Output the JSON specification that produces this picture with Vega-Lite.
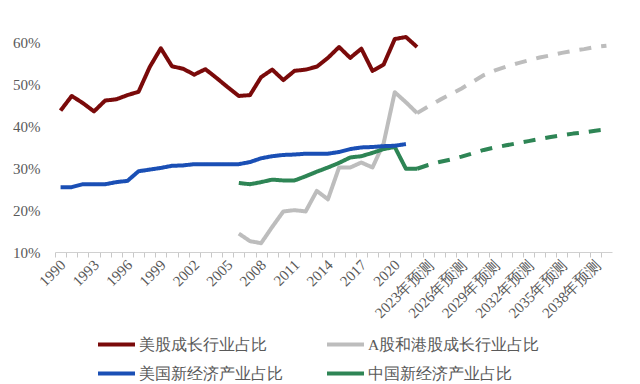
{
  "$schema": "https://vega.github.io/schema/vega-lite/v6.json",
  "width": 557,
  "height": 251,
  "autosize": {"type": "none"},
  "padding": {"left": 55, "top": 1, "right": 28, "bottom": 132},
  "background": "white",
  "config": {
    "view": {"stroke": null},
    "font": "Liberation Serif",
    "axis": {"labelFont": "Liberation Serif", "labelColor": "#595959", "labelFontSize": 15, "title": null, "grid": false},
    "legend": {"labelFont": "Liberation Serif", "labelColor": "#595959"}
  },
  "data": {
    "values": [
      {"series": "美股成长行业占比", "type": "实际", "year": 1990, "value": 43.8},
      {"series": "美股成长行业占比", "type": "实际", "year": 1991, "value": 47.3},
      {"series": "美股成长行业占比", "type": "实际", "year": 1992, "value": 45.6},
      {"series": "美股成长行业占比", "type": "实际", "year": 1993, "value": 43.6},
      {"series": "美股成长行业占比", "type": "实际", "year": 1994, "value": 46.2},
      {"series": "美股成长行业占比", "type": "实际", "year": 1995, "value": 46.5},
      {"series": "美股成长行业占比", "type": "实际", "year": 1996, "value": 47.5},
      {"series": "美股成长行业占比", "type": "实际", "year": 1997, "value": 48.3},
      {"series": "美股成长行业占比", "type": "实际", "year": 1998, "value": 54.2},
      {"series": "美股成长行业占比", "type": "实际", "year": 1999, "value": 58.7},
      {"series": "美股成长行业占比", "type": "实际", "year": 2000, "value": 54.4},
      {"series": "美股成长行业占比", "type": "实际", "year": 2001, "value": 53.8},
      {"series": "美股成长行业占比", "type": "实际", "year": 2002, "value": 52.4},
      {"series": "美股成长行业占比", "type": "实际", "year": 2003, "value": 53.7},
      {"series": "美股成长行业占比", "type": "实际", "year": 2004, "value": 51.6},
      {"series": "美股成长行业占比", "type": "实际", "year": 2005, "value": 49.4},
      {"series": "美股成长行业占比", "type": "实际", "year": 2006, "value": 47.3},
      {"series": "美股成长行业占比", "type": "实际", "year": 2007, "value": 47.5},
      {"series": "美股成长行业占比", "type": "实际", "year": 2008, "value": 51.8},
      {"series": "美股成长行业占比", "type": "实际", "year": 2009, "value": 53.6},
      {"series": "美股成长行业占比", "type": "实际", "year": 2010, "value": 51.1},
      {"series": "美股成长行业占比", "type": "实际", "year": 2011, "value": 53.3},
      {"series": "美股成长行业占比", "type": "实际", "year": 2012, "value": 53.6},
      {"series": "美股成长行业占比", "type": "实际", "year": 2013, "value": 54.3},
      {"series": "美股成长行业占比", "type": "实际", "year": 2014, "value": 56.4},
      {"series": "美股成长行业占比", "type": "实际", "year": 2015, "value": 59.0},
      {"series": "美股成长行业占比", "type": "实际", "year": 2016, "value": 56.4},
      {"series": "美股成长行业占比", "type": "实际", "year": 2017, "value": 58.6},
      {"series": "美股成长行业占比", "type": "实际", "year": 2018, "value": 53.3},
      {"series": "美股成长行业占比", "type": "实际", "year": 2019, "value": 54.8},
      {"series": "美股成长行业占比", "type": "实际", "year": 2020, "value": 60.9},
      {"series": "美股成长行业占比", "type": "实际", "year": 2021, "value": 61.4},
      {"series": "美股成长行业占比", "type": "实际", "year": 2022, "value": 59.0},

      {"series": "A股和港股成长行业占比", "type": "实际", "year": 2006, "value": 14.4},
      {"series": "A股和港股成长行业占比", "type": "实际", "year": 2007, "value": 12.6},
      {"series": "A股和港股成长行业占比", "type": "实际", "year": 2008, "value": 12.1},
      {"series": "A股和港股成长行业占比", "type": "实际", "year": 2009, "value": 16.0},
      {"series": "A股和港股成长行业占比", "type": "实际", "year": 2010, "value": 19.7},
      {"series": "A股和港股成长行业占比", "type": "实际", "year": 2011, "value": 20.0},
      {"series": "A股和港股成长行业占比", "type": "实际", "year": 2012, "value": 19.7},
      {"series": "A股和港股成长行业占比", "type": "实际", "year": 2013, "value": 24.6},
      {"series": "A股和港股成长行业占比", "type": "实际", "year": 2014, "value": 22.6},
      {"series": "A股和港股成长行业占比", "type": "实际", "year": 2015, "value": 30.2},
      {"series": "A股和港股成长行业占比", "type": "实际", "year": 2016, "value": 30.2},
      {"series": "A股和港股成长行业占比", "type": "实际", "year": 2017, "value": 31.4},
      {"series": "A股和港股成长行业占比", "type": "实际", "year": 2018, "value": 30.2},
      {"series": "A股和港股成长行业占比", "type": "实际", "year": 2019, "value": 36.0},
      {"series": "A股和港股成长行业占比", "type": "实际", "year": 2020, "value": 48.2},
      {"series": "A股和港股成长行业占比", "type": "实际", "year": 2021, "value": 45.8},
      {"series": "A股和港股成长行业占比", "type": "实际", "year": 2022, "value": 43.2},

      {"series": "A股和港股成长行业占比", "type": "预测", "year": 2022, "value": 43.2},
      {"series": "A股和港股成长行业占比", "type": "预测", "year": 2023, "value": 44.8},
      {"series": "A股和港股成长行业占比", "type": "预测", "year": 2024, "value": 46.3},
      {"series": "A股和港股成长行业占比", "type": "预测", "year": 2025, "value": 47.7},
      {"series": "A股和港股成长行业占比", "type": "预测", "year": 2026, "value": 49.1},
      {"series": "A股和港股成长行业占比", "type": "预测", "year": 2027, "value": 50.7},
      {"series": "A股和港股成长行业占比", "type": "预测", "year": 2028, "value": 52.3},
      {"series": "A股和港股成长行业占比", "type": "预测", "year": 2029, "value": 53.4},
      {"series": "A股和港股成长行业占比", "type": "预测", "year": 2030, "value": 54.3},
      {"series": "A股和港股成长行业占比", "type": "预测", "year": 2031, "value": 55.1},
      {"series": "A股和港股成长行业占比", "type": "预测", "year": 2032, "value": 55.8},
      {"series": "A股和港股成长行业占比", "type": "预测", "year": 2033, "value": 56.5},
      {"series": "A股和港股成长行业占比", "type": "预测", "year": 2034, "value": 57.0},
      {"series": "A股和港股成长行业占比", "type": "预测", "year": 2035, "value": 57.6},
      {"series": "A股和港股成长行业占比", "type": "预测", "year": 2036, "value": 58.1},
      {"series": "A股和港股成长行业占比", "type": "预测", "year": 2037, "value": 58.5},
      {"series": "A股和港股成长行业占比", "type": "预测", "year": 2038, "value": 59.0},
      {"series": "A股和港股成长行业占比", "type": "预测", "year": 2039, "value": 59.3},

      {"series": "中国新经济产业占比", "type": "实际", "year": 2006, "value": 26.5},
      {"series": "中国新经济产业占比", "type": "实际", "year": 2007, "value": 26.2},
      {"series": "中国新经济产业占比", "type": "实际", "year": 2008, "value": 26.7},
      {"series": "中国新经济产业占比", "type": "实际", "year": 2009, "value": 27.3},
      {"series": "中国新经济产业占比", "type": "实际", "year": 2010, "value": 27.1},
      {"series": "中国新经济产业占比", "type": "实际", "year": 2011, "value": 27.1},
      {"series": "中国新经济产业占比", "type": "实际", "year": 2012, "value": 28.1},
      {"series": "中国新经济产业占比", "type": "实际", "year": 2013, "value": 29.2},
      {"series": "中国新经济产业占比", "type": "实际", "year": 2014, "value": 30.2},
      {"series": "中国新经济产业占比", "type": "实际", "year": 2015, "value": 31.3},
      {"series": "中国新经济产业占比", "type": "实际", "year": 2016, "value": 32.6},
      {"series": "中国新经济产业占比", "type": "实际", "year": 2017, "value": 32.9},
      {"series": "中国新经济产业占比", "type": "实际", "year": 2018, "value": 33.7},
      {"series": "中国新经济产业占比", "type": "实际", "year": 2019, "value": 34.6},
      {"series": "中国新经济产业占比", "type": "实际", "year": 2020, "value": 35.1},
      {"series": "中国新经济产业占比", "type": "实际", "year": 2021, "value": 29.9},
      {"series": "中国新经济产业占比", "type": "实际", "year": 2022, "value": 29.9},

      {"series": "中国新经济产业占比", "type": "预测", "year": 2022, "value": 29.9},
      {"series": "中国新经济产业占比", "type": "预测", "year": 2023, "value": 30.8},
      {"series": "中国新经济产业占比", "type": "预测", "year": 2024, "value": 31.5},
      {"series": "中国新经济产业占比", "type": "预测", "year": 2025, "value": 32.1},
      {"series": "中国新经济产业占比", "type": "预测", "year": 2026, "value": 32.8},
      {"series": "中国新经济产业占比", "type": "预测", "year": 2027, "value": 33.6},
      {"series": "中国新经济产业占比", "type": "预测", "year": 2028, "value": 34.4},
      {"series": "中国新经济产业占比", "type": "预测", "year": 2029, "value": 35.0},
      {"series": "中国新经济产业占比", "type": "预测", "year": 2030, "value": 35.5},
      {"series": "中国新经济产业占比", "type": "预测", "year": 2031, "value": 36.0},
      {"series": "中国新经济产业占比", "type": "预测", "year": 2032, "value": 36.5},
      {"series": "中国新经济产业占比", "type": "预测", "year": 2033, "value": 37.0},
      {"series": "中国新经济产业占比", "type": "预测", "year": 2034, "value": 37.5},
      {"series": "中国新经济产业占比", "type": "预测", "year": 2035, "value": 37.9},
      {"series": "中国新经济产业占比", "type": "预测", "year": 2036, "value": 38.3},
      {"series": "中国新经济产业占比", "type": "预测", "year": 2037, "value": 38.6},
      {"series": "中国新经济产业占比", "type": "预测", "year": 2038, "value": 39.0},
      {"series": "中国新经济产业占比", "type": "预测", "year": 2039, "value": 39.3},

      {"series": "美国新经济产业占比", "type": "实际", "year": 1990, "value": 25.5},
      {"series": "美国新经济产业占比", "type": "实际", "year": 1991, "value": 25.5},
      {"series": "美国新经济产业占比", "type": "实际", "year": 1992, "value": 26.2},
      {"series": "美国新经济产业占比", "type": "实际", "year": 1993, "value": 26.2},
      {"series": "美国新经济产业占比", "type": "实际", "year": 1994, "value": 26.2},
      {"series": "美国新经济产业占比", "type": "实际", "year": 1995, "value": 26.7},
      {"series": "美国新经济产业占比", "type": "实际", "year": 1996, "value": 27.0},
      {"series": "美国新经济产业占比", "type": "实际", "year": 1997, "value": 29.3},
      {"series": "美国新经济产业占比", "type": "实际", "year": 1998, "value": 29.7},
      {"series": "美国新经济产业占比", "type": "实际", "year": 1999, "value": 30.1},
      {"series": "美国新经济产业占比", "type": "实际", "year": 2000, "value": 30.6},
      {"series": "美国新经济产业占比", "type": "实际", "year": 2001, "value": 30.7},
      {"series": "美国新经济产业占比", "type": "实际", "year": 2002, "value": 31.0},
      {"series": "美国新经济产业占比", "type": "实际", "year": 2003, "value": 31.0},
      {"series": "美国新经济产业占比", "type": "实际", "year": 2004, "value": 31.0},
      {"series": "美国新经济产业占比", "type": "实际", "year": 2005, "value": 31.0},
      {"series": "美国新经济产业占比", "type": "实际", "year": 2006, "value": 31.0},
      {"series": "美国新经济产业占比", "type": "实际", "year": 2007, "value": 31.5},
      {"series": "美国新经济产业占比", "type": "实际", "year": 2008, "value": 32.4},
      {"series": "美国新经济产业占比", "type": "实际", "year": 2009, "value": 32.9},
      {"series": "美国新经济产业占比", "type": "实际", "year": 2010, "value": 33.2},
      {"series": "美国新经济产业占比", "type": "实际", "year": 2011, "value": 33.3},
      {"series": "美国新经济产业占比", "type": "实际", "year": 2012, "value": 33.5},
      {"series": "美国新经济产业占比", "type": "实际", "year": 2013, "value": 33.5},
      {"series": "美国新经济产业占比", "type": "实际", "year": 2014, "value": 33.5},
      {"series": "美国新经济产业占比", "type": "实际", "year": 2015, "value": 33.9},
      {"series": "美国新经济产业占比", "type": "实际", "year": 2016, "value": 34.6},
      {"series": "美国新经济产业占比", "type": "实际", "year": 2017, "value": 35.0},
      {"series": "美国新经济产业占比", "type": "实际", "year": 2018, "value": 35.1},
      {"series": "美国新经济产业占比", "type": "实际", "year": 2019, "value": 35.3},
      {"series": "美国新经济产业占比", "type": "实际", "year": 2020, "value": 35.4},
      {"series": "美国新经济产业占比", "type": "实际", "year": 2021, "value": 35.8}
    ]
  },
  "mark": {"type": "line", "strokeWidth": 4, "strokeCap": "butt", "strokeJoin": "round"},
  "encoding": {
    "x": {
      "field": "year",
      "type": "quantitative",
      "scale": {"domain": [1989.5, 2039.5], "nice": false, "zero": false},
      "axis": {
        "values": [1990,1991,1992,1993,1994,1995,1996,1997,1998,1999,2000,2001,2002,2003,2004,2005,2006,2007,2008,2009,2010,2011,2012,2013,2014,2015,2016,2017,2018,2019,2020,2021,2022,2023,2024,2025,2026,2027,2028,2029,2030,2031,2032,2033,2034,2035,2036,2037,2038,2039],
        "labelExpr": "(datum.value - 1990) % 3 == 0 ? (datum.value >= 2023 ? datum.value + '年预测' : '' + datum.value) : ''",
        "labelAngle": -45,
        "labelAlign": "right",
        "labelBaseline": "middle",
        "labelOverlap": false,
        "labelFlush": false,
        "labelBound": false,
        "labelPadding": 5,
        "tickOffset": -5.57,
        "labelOffset": 7.5,
        "tickSize": 5,
        "tickColor": "#c8c8c8",
        "domainColor": "#d0d0d0",
        "domainWidth": 1
      }
    },
    "y": {
      "field": "value",
      "type": "quantitative",
      "scale": {"domain": [10, 70], "nice": false, "zero": false},
      "axis": {
        "values": [10, 20, 30, 40, 50, 60],
        "labelExpr": "datum.value + '%'",
        "domain": false,
        "ticks": false,
        "labelPadding": 15
      }
    },
    "color": {
      "field": "series",
      "type": "nominal",
      "scale": {
        "domain": ["美股成长行业占比", "A股和港股成长行业占比", "美国新经济产业占比", "中国新经济产业占比"],
        "range": ["#7A0A0A", "#BDBDBD", "#1A4FB5", "#2E8555"]
      },
      "legend": {
        "title": null,
        "orient": "none",
        "direction": "horizontal",
        "columns": 2,
        "legendX": 41,
        "legendY": 323,
        "padding": 0,
        "symbolType": "stroke",
        "symbolSize": 1369,
        "symbolStrokeWidth": 4,
        "labelFontSize": 15.5,
        "labelOffset": 2,
        "labelLimit": 300,
        "columnPadding": 36,
        "rowPadding": -14
      }
    },
    "strokeDash": {
      "field": "type",
      "type": "nominal",
      "scale": {"domain": ["实际", "预测"], "range": [[1, 0], [12, 10]]},
      "legend": null
    }
  }
}
